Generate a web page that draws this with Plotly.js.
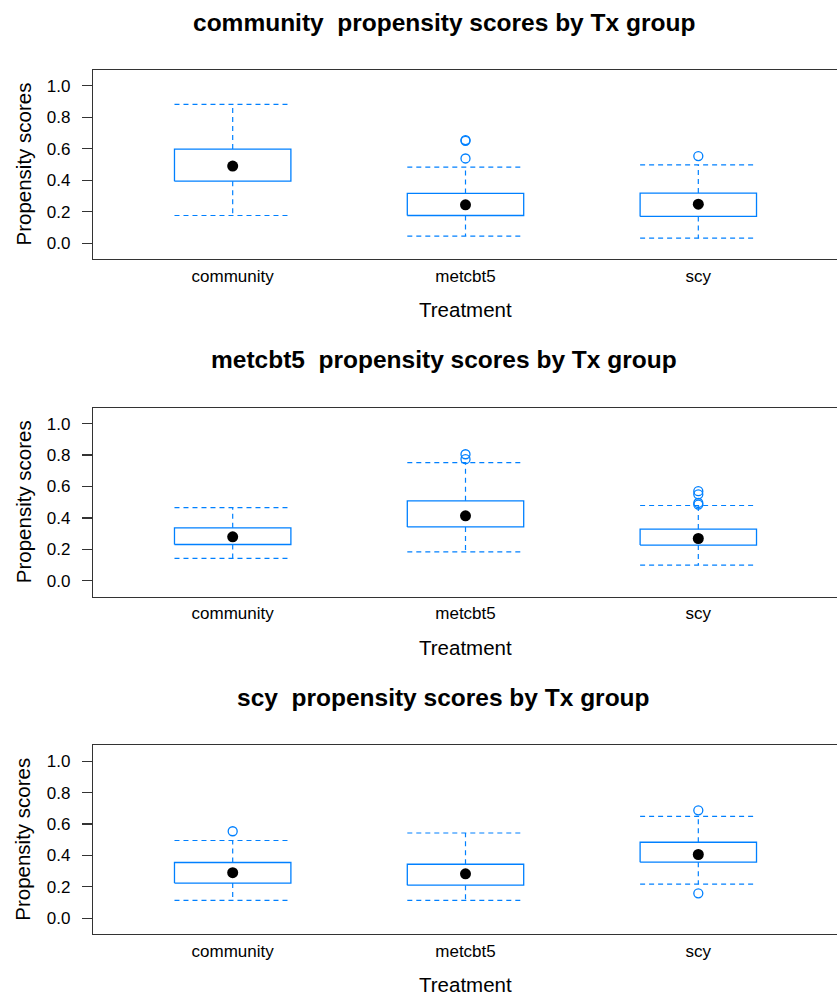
<!DOCTYPE html>
<html>
<head>
<meta charset="utf-8">
<script src="https://cdn.plot.ly/plotly-3.0.1.min.js"></script>
<style>
html,body{margin:0;padding:0;overflow:hidden;background:#fff;}
#chart{width:842px;height:996px;}
</style>
</head>
<body>
<div id="chart"></div>
<script>
// ---- data ----
const categories = ['community', 'metcbt5', 'scy'];
const panelGroups = ['community', 'metcbt5', 'scy'];
const yTickVals = [0, 0.2, 0.4, 0.6, 0.8, 1.0];

// Panel 1: community propensity scores
const p1Lower  = [0.176, 0.045, 0.032];
const p1Q1     = [0.394, 0.176, 0.170];
const p1Median = [0.490, 0.244, 0.248];
const p1Q3     = [0.598, 0.316, 0.318];
const p1Upper  = [0.882, 0.483, 0.498];
const p1Out    = [[], [0.650, 0.655, 0.538], [0.553]];

// Panel 2: metcbt5 propensity scores
const p2Lower  = [0.142, 0.184, 0.100];
const p2Q1     = [0.231, 0.343, 0.227];
const p2Median = [0.280, 0.413, 0.269];
const p2Q3     = [0.337, 0.509, 0.329];
const p2Upper  = [0.466, 0.752, 0.479];
const p2Out    = [[], [0.805, 0.774], [0.570, 0.550, 0.495, 0.485]];

// Panel 3: scy propensity scores
const p3Lower  = [0.114, 0.114, 0.217];
const p3Q1     = [0.224, 0.211, 0.357];
const p3Median = [0.290, 0.283, 0.406];
const p3Q3     = [0.355, 0.344, 0.484];
const p3Upper  = [0.495, 0.543, 0.649];
const p3Out    = [[0.554], [], [0.687, 0.159]];

const panels = [
  {lower: p1Lower, q1: p1Q1, med: p1Median, q3: p1Q3, upper: p1Upper, out: p1Out},
  {lower: p2Lower, q1: p2Q1, med: p2Median, q3: p2Q3, upper: p2Upper, out: p2Out},
  {lower: p3Lower, q1: p3Q1, med: p3Median, q3: p3Q3, upper: p3Upper, out: p3Out}
];

// ---- styling ----
const BLUE = '#0080ff';
const FONT = 'Liberation Sans, Arial, Helvetica, sans-serif';
const HW = 0.25; // half box width in category units

const W = 842, H = 996;
const M = {l: 93.3, r: 3.5, t: 70, b: 61.7};
const plotH = H - M.t - M.b;
// pixel tops/bottoms of each panel's plotting region
const panelPix = [[70, 259], [408, 596.7], [745.7, 934.3]];
const toPaperY = py => (H - M.b - py) / plotH;
const plotW = W - M.l - M.r;
const toPaperX = px => (px - M.l) / plotW;

const traces = [];
const layout = {
  width: W, height: H, autosize: false,
  margin: M,
  paper_bgcolor: '#fff', plot_bgcolor: '#fff',
  showlegend: false,
  font: {family: FONT, size: 17, color: '#000'},
  annotations: []
};

panels.forEach((p, k) => {
  const xa = k === 0 ? 'x' : 'x' + (k + 1);
  const ya = k === 0 ? 'y' : 'y' + (k + 1);
  const xKey = k === 0 ? 'xaxis' : 'xaxis' + (k + 1);
  const yKey = k === 0 ? 'yaxis' : 'yaxis' + (k + 1);

  const bx = [], by = [], wx = [], wy = [], ox = [], oy = [], mx = [], my = [];
  categories.forEach((c, i) => {
    const xc = i + 1;
    bx.push(xc - HW, xc + HW, xc + HW, xc - HW, xc - HW, null);
    by.push(p.q1[i], p.q1[i], p.q3[i], p.q3[i], p.q1[i], null);
    wx.push(xc, xc, null, xc - HW, xc + HW, null, xc, xc, null, xc - HW, xc + HW, null);
    wy.push(p.q3[i], p.upper[i], null, p.upper[i], p.upper[i], null,
            p.q1[i], p.lower[i], null, p.lower[i], p.lower[i], null);
    mx.push(xc); my.push(p.med[i]);
    p.out[i].forEach(v => { ox.push(xc); oy.push(v); });
  });

  traces.push({type: 'scatter', mode: 'lines', x: wx, y: wy, xaxis: xa, yaxis: ya,
    line: {color: BLUE, width: 1.2, dash: '5px,4px'}, hoverinfo: 'skip'});
  traces.push({type: 'scatter', mode: 'lines', x: bx, y: by, xaxis: xa, yaxis: ya,
    line: {color: BLUE, width: 1.3}, hoverinfo: 'skip'});
  traces.push({type: 'scatter', mode: 'markers', x: ox, y: oy, xaxis: xa, yaxis: ya,
    marker: {symbol: 'circle-open', size: 9, color: BLUE, line: {width: 1.3, color: BLUE}}});
  traces.push({type: 'scatter', mode: 'markers', x: mx, y: my, xaxis: xa, yaxis: ya,
    marker: {symbol: 'circle', size: 11, color: '#000'}});

  const d0 = toPaperY(panelPix[k][1]), d1 = toPaperY(panelPix[k][0]);
  layout[xKey] = {
    anchor: ya, domain: [0, 1], range: [0.4, 3.6],
    tickmode: 'array', tickvals: [1, 2, 3], ticktext: categories,
    ticks: '', showgrid: false, zeroline: false,
    showline: true, mirror: true, linecolor: '#333', linewidth: 1.2,
    tickfont: {family: FONT, size: 17, color: '#000'},
    ticklabelstandoff: 1, fixedrange: true
  };
  layout[yKey] = {
    anchor: xa, domain: [d0, d1], range: [-0.1, 1.1],
    tickmode: 'array', tickvals: yTickVals, tickformat: '.1f',
    ticks: 'outside', ticklen: 10, tickwidth: 1.2, tickcolor: '#333',
    showgrid: false, zeroline: false,
    showline: true, mirror: true, linecolor: '#333', linewidth: 1.2,
    tickfont: {family: FONT, size: 17, color: '#000'},
    ticklabelstandoff: 8, fixedrange: true
  };

  // panel title
  layout.annotations.push({
    text: panelGroups[k] + '\u00a0 propensity scores by Tx group',
    xref: 'paper', yref: 'paper', x: toPaperX(444), y: toPaperY(panelPix[k][0] - 48),
    xanchor: 'center', yanchor: 'middle', showarrow: false,
    font: {family: FONT, size: 24.5, color: '#000', weight: 'bold'}
  });
  // x-axis title
  layout.annotations.push({
    text: 'Treatment',
    xref: 'paper', yref: 'paper', x: 0.5, y: toPaperY(panelPix[k][1] + 51),
    xanchor: 'center', yanchor: 'middle', showarrow: false,
    font: {family: FONT, size: 20.5, color: '#000'}
  });
  // y-axis title
  layout.annotations.push({
    text: 'Propensity scores',
    xref: 'paper', yref: 'paper', x: toPaperX(23.3), y: (d0 + d1) / 2,
    xanchor: 'center', yanchor: 'middle', textangle: -90, showarrow: false,
    font: {family: FONT, size: 20.5, color: '#000'}
  });
});

Plotly.newPlot('chart', traces, layout, {displayModeBar: false, staticPlot: true});
</script>
</body>
</html>
